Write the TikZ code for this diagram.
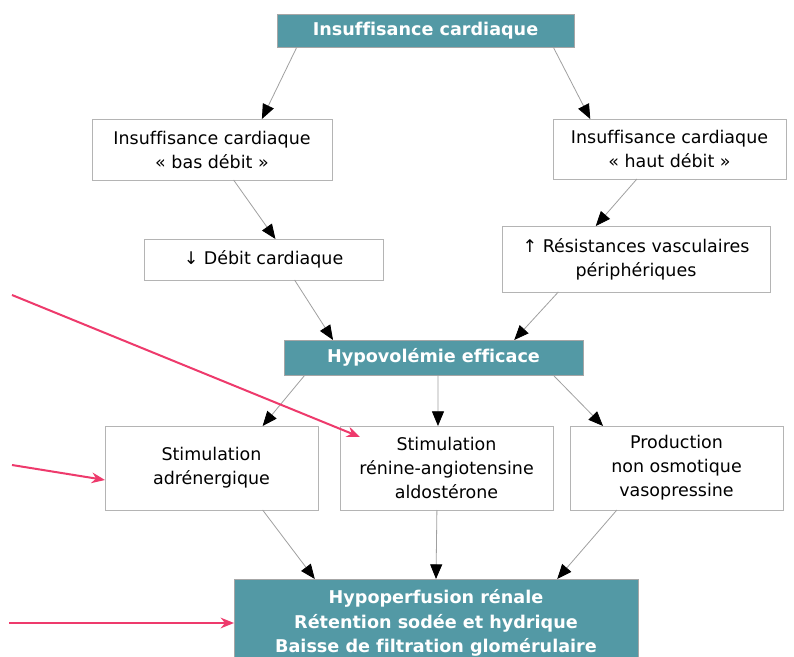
\documentclass[tikz,border=0pt]{standalone}
\usepackage{fontspec}
\setmainfont{DejaVu Sans}[Ligatures=NoCommon]
\usetikzlibrary{arrows.meta,calc}
\definecolor{tealbox}{RGB}{83,153,165}
\definecolor{pinkline}{RGB}{238,58,108}
\definecolor{boxline}{RGB}{180,180,180}
\definecolor{linkgray}{RGB}{160,160,160}

\begin{document}
\begin{tikzpicture}[x=0.75pt,y=-0.75pt,
  every node/.style={inner sep=0pt, outer sep=0pt, align=center},
  plainbox/.style={font=\fontsize{13.1}{18}\selectfont, draw=boxline, line width=0.6pt, fill=white},
  accentbox/.style={font=\fontsize{13.2}{18.4}\selectfont\bfseries, text=white, fill=tealbox, draw=gray!70, line width=0.5pt},
  link/.style={draw=linkgray, line width=0.6pt, -{Triangle[length=11pt,width=9pt,color=black,fill=black]}},
  pinkarrow/.style={draw=pinkline, line width=1.5pt, -{Stealth[length=10pt,width=8pt]}}
]
\useasboundingbox (0,0) rectangle (794,657);
\clip (0,0) rectangle (794,657);
\fill[white] (0,0) rectangle (794,657);

% boxes
\node[accentbox, minimum width=222.75pt, minimum height=24.75pt] (ic) at (425.5,30.5) {Insuffisance cardiaque};
\node[plainbox, minimum width=180pt, minimum height=45.75pt] (bas) at (212,149.5) {Insuffisance cardiaque\\« bas débit »};
\node[plainbox, minimum width=174.75pt, minimum height=45pt] (haut) at (669.5,149) {Insuffisance cardiaque\\« haut débit »};
\node[plainbox, minimum width=179.25pt, minimum height=30.75pt] (debit) at (263.5,259.5) {↓ Débit cardiaque};
\node[plainbox, minimum width=201pt, minimum height=49.5pt] (res) at (636,259) {↑ Résistances vasculaires\\périphériques};
\node[accentbox, minimum width=224.25pt, minimum height=26.25pt] (hypo) at (433.5,357.5) {Hypovolémie efficace};
\node[plainbox, minimum width=159.75pt, minimum height=63pt] (adr) at (211.5,468) {Stimulation\\adrénergique};
\node[plainbox, minimum width=159.75pt, minimum height=63pt] (ren) at (446.5,468) {Stimulation\\rénine-angiotensine\\aldostérone};
\node[plainbox, minimum width=159.75pt, minimum height=63pt] (prod) at (676.5,468) {Production\\non osmotique\\vasopressine};
\node[accentbox, minimum width=303pt, minimum height=66pt] (rein) at (436,623) {Hypoperfusion rénale\\Rétention sodée et hydrique\\Baisse de filtration glomérulaire};

% connectors
\draw[link] ($(ic.south west)!0.067!(ic.south east)$) -- ($(bas.north west)!0.708!(bas.north east)$);
\draw[link] ($(ic.south west)!0.93!(ic.south east)$) -- ($(haut.north west)!0.16!(haut.north east)$);
\draw[link] ($(bas.south west)!0.59!(bas.south east)$) -- ($(debit.north west)!0.55!(debit.north east)$);
\draw[link] ($(haut.south west)!0.36!(haut.south east)$) -- ($(res.north west)!0.35!(res.north east)$);
\draw[link] ($(debit.south west)!0.63!(debit.south east)$) -- ($(hypo.north west)!0.164!(hypo.north east)$);
\draw[link] ($(res.south west)!0.21!(res.south east)$) -- ($(hypo.north west)!0.77!(hypo.north east)$);
\draw[link] ($(hypo.south west)!0.07!(hypo.south east)$) -- ($(adr.north west)!0.74!(adr.north east)$);
\draw[link] ($(hypo.south west)!0.515!(hypo.south east)$) -- ($(ren.north west)!0.46!(ren.north east)$);
\draw[link] ($(hypo.south west)!0.9!(hypo.south east)$) -- ($(prod.north west)!0.155!(prod.north east)$);
\draw[link] ($(adr.south west)!0.74!(adr.south east)$) -- ($(rein.north west)!0.2!(rein.north east)$);
\draw[link] ($(ren.south west)!0.455!(ren.south east)$) -- ($(rein.north west)!0.5!(rein.north east)$);
\draw[link] ($(prod.south west)!0.22!(prod.south east)$) -- ($(rein.north west)!0.8!(rein.north east)$);

% highlight arrows
\coordinate (p1) at (12,295);
\coordinate (p2) at (12,465);
\coordinate (p3) at (9,623);
\draw[pinkarrow] (p1) -- ($(ren.north west)+(20,11)$);
\draw[pinkarrow] (p2) -- ($(adr.west)+(0,12)$);
\draw[pinkarrow] (p3) -- (rein.west);
\end{tikzpicture}
\end{document}
